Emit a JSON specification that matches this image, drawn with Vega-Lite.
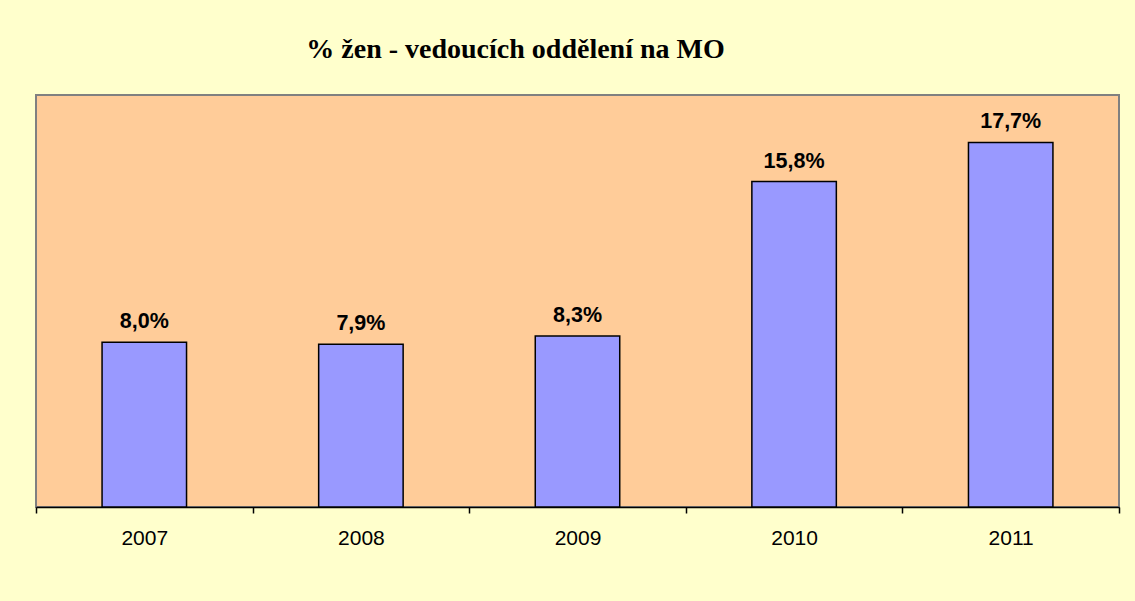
{
  "$schema": "https://vega.github.io/schema/vega-lite/v6.json",
  "width": 1083,
  "height": 412,
  "autosize": {"type": "none"},
  "padding": {"left": 36, "top": 95, "right": 16, "bottom": 94},
  "background": "#FFFFCC",
  "title": {
    "text": "% žen - vedoucích oddělení na MO",
    "font": "Liberation Serif",
    "fontSize": 28,
    "fontWeight": "bold",
    "color": "#000000",
    "anchor": "middle",
    "dx": -62,
    "offset": 31
  },
  "config": {
    "locale": {
      "number": {"decimal": ",", "thousands": " ", "grouping": [3], "currency": ["", " Kč"]}
    },
    "view": {"fill": "#FFCC99", "stroke": "#808080", "strokeWidth": 2}
  },
  "data": {
    "values": [
      {"rok": "2007", "podil": 0.080},
      {"rok": "2008", "podil": 0.079},
      {"rok": "2009", "podil": 0.083},
      {"rok": "2010", "podil": 0.158},
      {"rok": "2011", "podil": 0.177}
    ]
  },
  "encoding": {
    "x": {
      "field": "rok",
      "type": "nominal",
      "scale": {"paddingInner": 0, "paddingOuter": 0},
      "axis": {
        "title": null,
        "labelAngle": 0,
        "labelFont": "Liberation Sans",
        "labelFontSize": 21,
        "labelColor": "#000000",
        "labelPadding": 14,
        "domainColor": "#000000",
        "domainWidth": 1.5,
        "tickColor": "#000000",
        "tickWidth": 1.5,
        "tickSize": 6,
        "tickBand": "extent"
      }
    },
    "y": {
      "field": "podil",
      "type": "quantitative",
      "scale": {"domain": [0, 0.2]},
      "axis": null
    }
  },
  "layer": [
    {
      "mark": {"type": "bar", "width": {"band": 0.39}, "color": "#9999FF", "stroke": "#000000", "strokeWidth": 1.5}
    },
    {
      "mark": {"type": "text", "font": "Liberation Sans", "fontSize": 21.5, "fontWeight": "bold", "color": "#000000", "baseline": "alphabetic", "dy": -14},
      "encoding": {
        "text": {"field": "podil", "type": "quantitative", "format": ".1%"}
      }
    }
  ]
}
